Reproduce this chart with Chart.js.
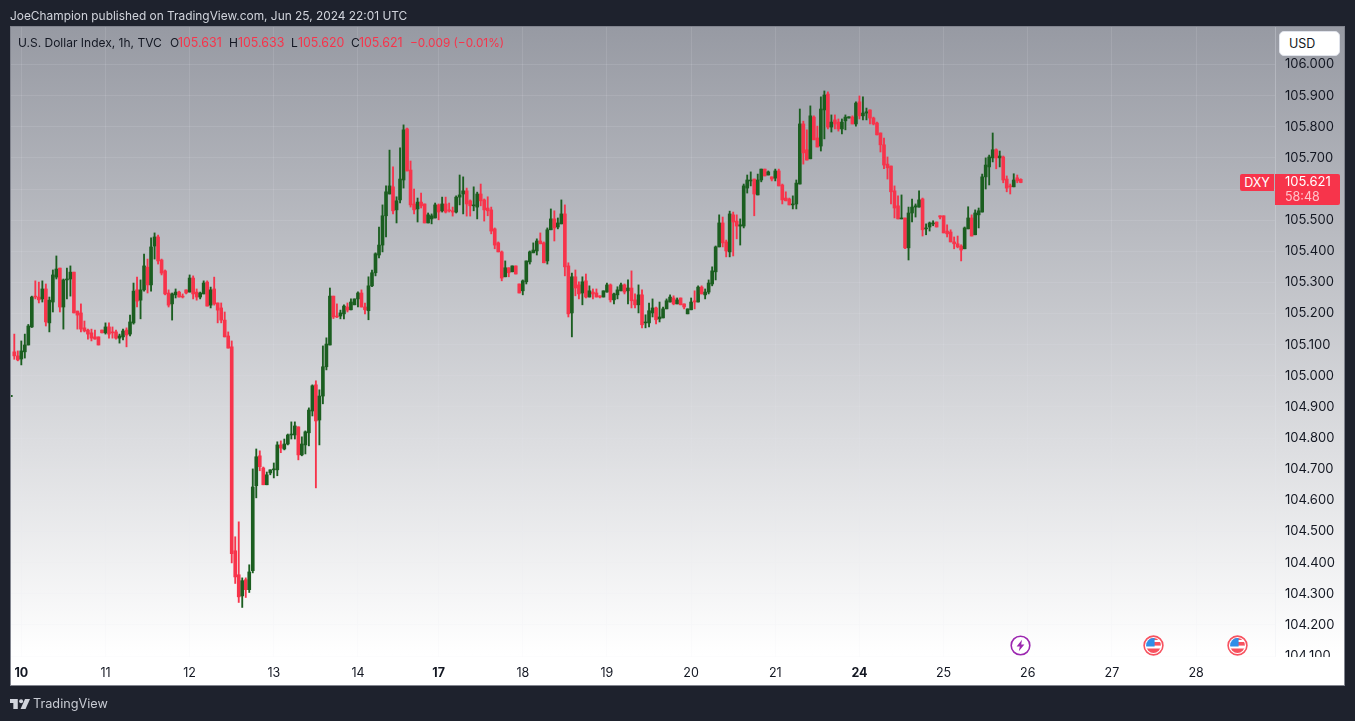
<!DOCTYPE html>
<html><head><meta charset="utf-8">
<script src="https://cdn.jsdelivr.net/npm/chart.js@4/dist/chart.umd.min.js"></script>
<style>
html,body{margin:0;padding:0;width:1355px;height:721px;overflow:hidden;background:#1e222d;font-family:Inter,Roboto,sans-serif;}
#frame{position:absolute;left:10px;top:26px;width:1333px;height:658px;border:1px solid #82858f;background:linear-gradient(180deg,#979aa3 0,#ffffff 628px);}
canvas{position:absolute;left:0;top:0;}
.t{position:absolute;white-space:nowrap;line-height:16px;font-size:12px;}
.k{color:#131722}.r{color:#f7344b}
#usd{position:absolute;left:1279px;top:31px;width:61px;height:25px;background:#fff;border:1px solid #e0e3eb;border-radius:5px;box-sizing:border-box;color:#131722;font-size:12.5px;line-height:24px;padding-left:9px;}
#dxy{position:absolute;left:1240px;width:34px;height:17px;background:#f7344b;color:#fff;font-size:12.5px;line-height:17px;text-align:center;border-radius:2px 0 0 2px;}
#price{position:absolute;left:1275px;width:65px;height:31px;background:#f7344b;color:#fff;font-size:13px;line-height:15px;border-radius:0 2px 2px 0;padding:0;}
#price div{padding-left:10px}
#price .cd{color:#ffc4cb;font-size:12.5px}
svg.m{position:absolute}
</style></head><body>
<div id="frame"></div>
<canvas id="c" width="1355" height="721"></canvas>
<div class="t" style="left:10px;top:8px;color:#d1d4dc;font-size:11.9px" id="pub">JoeChampion published on TradingView.com, Jun 25, 2024 22:01 UTC</div>
<div class="t k" style="left:18px;top:35px;font-size:12px">U.S. Dollar Index, 1h, TVC</div>
<div class="t k" style="left:170px;top:35px">O</div><div class="t r" style="left:178px;top:35px;font-size:12.4px">105.631</div>
<div class="t k" style="left:229px;top:35px">H</div><div class="t r" style="left:238px;top:35px;font-size:12.4px">105.633</div>
<div class="t k" style="left:291px;top:35px">L</div><div class="t r" style="left:298px;top:35px;font-size:12.4px">105.620</div>
<div class="t k" style="left:351px;top:35px">C</div><div class="t r" style="left:359px;top:35px;font-size:12.4px">105.621</div>
<div class="t r" style="left:410px;top:35px;font-size:11.8px">−0.009 (−0.01%)</div>
<div id="usd">USD</div>
<div id="dxy">DXY</div>
<div id="price"><div id="pv"></div><div class="cd">58:48</div></div>
<svg class="m" style="left:1010px;top:635px" width="21" height="21" viewBox="0 0 21 21"><circle cx="10.5" cy="10.5" r="9.3" fill="#fff" stroke="#9c27b0" stroke-width="1.6"/><path d="M12 4.8 6.6 11.4h3.2L8.8 16.2l5.6-6.8h-3.2z" fill="#9c27b0"/></svg>
<svg class="m" style="left:1142.5px;top:634.5px" width="21" height="21" viewBox="0 0 21 21"><defs><clipPath id="cf1"><circle cx="10.5" cy="10.5" r="7.4"/></clipPath></defs><circle cx="10.5" cy="10.5" r="9.4" fill="#fff" stroke="#f7525f" stroke-width="1.6"/><g clip-path="url(#cf1)"><rect x="2" y="3" width="17" height="15" fill="#fff"/><rect x="2" y="3" width="17" height="2" fill="#f7525f"/><rect x="11" y="7" width="8" height="3.6" fill="#f7525f"/><rect x="2" y="13.5" width="17" height="5" fill="#f7525f"/><rect x="2" y="3" width="9.6" height="8.5" fill="#2f8fe8"/></g></svg>
<svg class="m" style="left:1226.5px;top:634.5px" width="21" height="21" viewBox="0 0 21 21"><defs><clipPath id="cf2"><circle cx="10.5" cy="10.5" r="7.4"/></clipPath></defs><circle cx="10.5" cy="10.5" r="9.4" fill="#fff" stroke="#f7525f" stroke-width="1.6"/><g clip-path="url(#cf2)"><rect x="2" y="3" width="17" height="15" fill="#fff"/><rect x="2" y="3" width="17" height="2" fill="#f7525f"/><rect x="11" y="7" width="8" height="3.6" fill="#f7525f"/><rect x="2" y="13.5" width="17" height="5" fill="#f7525f"/><rect x="2" y="3" width="9.6" height="8.5" fill="#2f8fe8"/></g></svg>
<svg class="m" style="left:10px;top:697px" width="20" height="14" viewBox="0 0 36 24"><path d="M14 3H0v7h6v11h8z" fill="#d1d4dc"/><circle cx="20" cy="7" r="3.6" fill="#d1d4dc"/><path d="M27 3h9l-8 18h-9z" fill="#d1d4dc"/></svg>
<div class="t" style="left:33px;top:696px;color:#c8cbd3;font-size:12.7px">TradingView</div>
<script>
const leadOpen=104.933, leadHigh=104.937, leadLow=104.933, leadClose=104.937;
const opens=[
105.077,105.064,105.054,105.077,105.099,105.157,105.256,105.253,105.247,105.279,
105.170,105.237,105.317,105.346,105.221,105.308,105.311,105.333,105.208,105.202,
105.154,105.147,105.138,105.125,105.125,105.147,105.138,105.157,105.141,105.141,
105.121,105.125,105.147,105.134,105.170,105.276,105.243,105.276,105.349,105.292,
105.417,105.446,105.372,105.337,105.266,105.231,105.260,105.269,105.256,105.276,
105.269,105.314,105.269,105.253,105.263,105.301,105.227,105.279,105.234,105.218,
105.179,105.128,105.093,104.438,104.361,104.293,104.345,104.313,104.374,104.647,
104.743,104.704,104.650,104.688,104.698,104.698,104.778,104.765,104.781,104.810,
104.810,104.836,104.746,104.778,104.817,104.887,104.971,104.858,104.935,105.029,
105.099,105.256,105.192,105.192,105.199,105.221,105.212,105.228,105.247,105.266,
105.221,105.209,105.289,105.331,105.388,105.420,105.514,105.584,105.607,105.533,
105.565,105.629,105.793,105.661,105.552,105.536,105.558,105.552,105.491,105.504,
105.507,105.549,105.530,105.552,105.533,105.530,105.526,105.574,105.584,105.594,
105.562,105.546,105.542,105.584,105.565,105.539,105.533,105.472,105.427,105.398,
105.318,105.347,105.334,105.353,105.295,105.273,105.302,105.366,105.395,105.401,
105.433,105.427,105.369,105.469,105.504,105.478,105.488,105.520,105.353,105.202,
105.318,105.292,105.266,105.305,105.253,105.269,105.266,105.257,105.253,105.269,
105.292,105.244,105.260,105.273,105.292,105.273,105.282,105.244,105.228,105.260,
105.170,105.170,105.202,105.218,105.183,105.186,105.215,105.237,105.250,105.231,
105.250,105.231,105.199,105.212,105.241,105.237,105.285,105.260,105.269,105.295,
105.334,105.414,105.491,105.430,105.398,105.517,105.497,105.481,105.481,105.603,
105.626,105.632,105.581,105.629,105.664,105.645,105.639,105.635,105.658,105.613,
105.571,105.568,105.549,105.552,105.616,105.809,105.726,105.697,105.831,105.764,
105.738,105.854,105.905,105.799,105.822,105.815,105.793,105.819,105.828,105.831,
105.809,105.880,105.835,105.844,105.854,105.828,105.812,105.780,105.742,105.680,
105.674,105.594,105.546,105.504,105.507,105.411,105.523,105.542,105.542,105.568,
105.472,105.478,105.488,105.494,105.514,105.514,105.465,105.462,105.430,105.424,
105.417,105.408,105.472,105.507,105.453,105.517,105.526,105.639,105.671,105.700,
105.726,105.700,105.703,105.632,105.610,105.607,105.636,105.631];
const highs=[
105.134,105.080,105.112,105.134,105.165,105.256,105.305,105.301,105.305,105.295,
105.253,105.340,105.385,105.346,105.311,105.346,105.353,105.333,105.208,105.231,
105.176,105.150,105.150,105.147,105.125,105.147,105.170,105.170,105.157,105.147,
105.134,105.150,105.154,105.195,105.298,105.317,105.308,105.391,105.375,105.443,
105.459,105.452,105.375,105.340,105.276,105.266,105.279,105.272,105.263,105.276,
105.324,105.321,105.279,105.269,105.305,105.305,105.285,105.317,105.234,105.234,
105.205,105.141,105.112,104.483,104.531,104.351,104.351,104.393,104.701,104.765,
104.759,104.707,104.691,104.698,104.720,104.788,104.791,104.797,104.813,104.852,
104.852,104.836,104.804,104.823,104.897,104.971,104.984,104.955,105.096,105.122,
105.282,105.256,105.231,105.211,105.228,105.234,105.247,105.247,105.270,105.276,
105.234,105.318,105.340,105.395,105.478,105.549,105.610,105.725,105.671,105.575,
105.732,105.806,105.796,105.690,105.600,105.571,105.587,105.552,105.523,105.520,
105.555,105.552,105.574,105.574,105.555,105.542,105.578,105.645,105.639,105.603,
105.565,105.607,105.590,105.616,105.568,105.575,105.542,105.475,105.430,105.401,
105.369,105.347,105.353,105.353,105.295,105.308,105.369,105.401,105.427,105.440,
105.459,105.430,105.475,105.536,105.530,105.507,105.565,105.549,105.363,105.330,
105.340,105.302,105.318,105.327,105.289,105.279,105.279,105.257,105.273,105.298,
105.295,105.266,105.286,105.298,105.295,105.308,105.337,105.263,105.292,105.276,
105.196,105.234,105.247,105.221,105.237,105.221,105.247,105.260,105.257,105.250,
105.250,105.231,105.215,105.250,105.273,105.289,105.289,105.279,105.308,105.350,
105.417,105.517,105.510,105.436,105.529,105.526,105.517,105.504,105.616,105.645,
105.655,105.632,105.648,105.664,105.664,105.658,105.639,105.664,105.664,105.616,
105.591,105.571,105.578,105.629,105.857,105.818,105.790,105.867,105.835,105.802,
105.896,105.915,105.912,105.838,105.838,105.825,105.825,105.838,105.832,105.835,
105.880,105.899,105.896,105.860,105.854,105.831,105.815,105.780,105.764,105.703,
105.674,105.610,105.578,105.581,105.507,105.542,105.568,105.552,105.594,105.571,
105.488,105.494,105.498,105.494,105.514,105.514,105.485,105.469,105.446,105.449,
105.421,105.478,105.543,105.517,105.533,105.539,105.648,105.700,105.709,105.780,
105.729,105.722,105.706,105.642,105.616,105.649,105.645,105.633];
const lows=[
105.053,105.048,105.035,105.057,105.099,105.155,105.247,105.234,105.237,105.160,
105.141,105.205,105.311,105.205,105.150,105.247,105.256,105.202,105.150,105.141,
105.141,105.118,105.112,105.118,105.099,105.138,105.134,105.121,105.121,105.118,
105.105,105.115,105.093,105.128,105.166,105.221,105.183,105.272,105.266,105.272,
105.375,105.359,105.324,105.260,105.221,105.179,105.250,105.253,105.250,105.263,
105.269,105.247,105.243,105.247,105.263,105.224,105.218,105.227,105.170,105.170,
105.125,105.089,104.399,104.333,104.272,104.256,104.288,104.304,104.367,104.608,
104.695,104.650,104.650,104.682,104.672,104.679,104.753,104.762,104.778,104.797,
104.797,104.730,104.743,104.749,104.775,104.871,104.640,104.778,104.910,105.019,
105.099,105.184,105.187,105.183,105.183,105.205,105.212,105.228,105.221,105.221,
105.199,105.180,105.286,105.321,105.379,105.398,105.446,105.584,105.520,105.491,
105.555,105.603,105.658,105.542,105.520,105.494,105.539,105.491,105.491,105.488,
105.507,105.501,105.526,105.523,105.526,105.513,105.523,105.549,105.520,105.513,
105.513,105.530,105.504,105.546,105.497,105.514,105.456,105.408,105.398,105.305,
105.318,105.318,105.334,105.327,105.266,105.260,105.295,105.359,105.395,105.388,
105.424,105.363,105.359,105.469,105.433,105.472,105.488,105.321,105.189,105.125,
105.257,105.247,105.228,105.250,105.253,105.247,105.253,105.250,105.253,105.269,
105.237,105.231,105.247,105.273,105.263,105.231,105.218,105.218,105.202,105.154,
105.154,105.157,105.189,105.167,105.173,105.186,105.215,105.237,105.228,105.231,
105.228,105.215,105.199,105.212,105.215,105.237,105.263,105.247,105.263,105.289,
105.308,105.414,105.414,105.382,105.382,105.385,105.440,105.420,105.475,105.587,
105.610,105.514,105.581,105.623,105.642,105.645,105.626,105.626,105.610,105.552,
105.562,105.549,105.536,105.536,105.616,105.680,105.693,105.697,105.758,105.735,
105.722,105.761,105.793,105.783,105.793,105.786,105.777,105.790,105.828,105.809,
105.802,105.825,105.822,105.822,105.809,105.806,105.774,105.719,105.665,105.632,
105.552,105.507,105.504,105.504,105.408,105.372,105.494,105.510,105.542,105.449,
105.453,105.465,105.482,105.478,105.504,105.459,105.446,105.430,105.408,105.411,
105.369,105.408,105.472,105.449,105.453,105.475,105.526,105.600,105.613,105.687,
105.665,105.671,105.620,105.591,105.584,105.607,105.620,105.620];
const closes=[
105.064,105.051,105.080,105.099,105.160,105.253,105.253,105.244,105.279,105.173,
105.243,105.324,105.343,105.221,105.308,105.311,105.333,105.202,105.195,105.150,
105.144,105.134,105.121,105.118,105.099,105.138,105.157,105.134,105.138,105.121,
105.128,105.144,105.131,105.173,105.272,105.240,105.276,105.353,105.292,105.414,
105.446,105.369,105.330,105.263,105.227,105.263,105.269,105.253,105.253,105.266,
105.314,105.263,105.253,105.266,105.298,105.224,105.276,105.231,105.211,105.179,
105.125,105.089,104.429,104.354,104.290,104.342,104.313,104.370,104.643,104.740,
104.708,104.650,104.682,104.698,104.701,104.778,104.768,104.781,104.810,104.813,
104.839,104.746,104.781,104.820,104.890,104.968,104.855,104.935,105.029,105.102,
105.256,105.189,105.189,105.202,105.224,105.211,105.237,105.247,105.266,105.221,
105.212,105.289,105.331,105.392,105.420,105.514,105.591,105.610,105.530,105.562,
105.632,105.790,105.658,105.549,105.533,105.558,105.546,105.491,105.517,105.514,
105.549,105.526,105.552,105.526,105.530,105.526,105.574,105.581,105.594,105.552,
105.546,105.549,105.584,105.562,105.533,105.530,105.465,105.420,105.398,105.314,
105.347,105.331,105.353,105.327,105.266,105.305,105.369,105.398,105.404,105.433,
105.424,105.363,105.469,105.504,105.475,105.491,105.520,105.350,105.199,105.318,
105.282,105.263,105.302,105.253,105.273,105.263,105.253,105.253,105.273,105.292,
105.244,105.263,105.276,105.292,105.269,105.282,105.241,105.228,105.260,105.164,
105.173,105.209,105.218,105.180,105.189,105.215,105.241,105.253,105.231,105.244,
105.228,105.221,105.215,105.237,105.237,105.285,105.263,105.269,105.298,105.337,
105.414,105.491,105.427,105.401,105.520,105.494,105.481,105.485,105.610,105.629,
105.629,105.584,105.629,105.664,105.642,105.655,105.632,105.658,105.610,105.565,
105.562,105.549,105.552,105.619,105.809,105.716,105.693,105.835,105.758,105.735,
105.857,105.902,105.799,105.815,105.809,105.793,105.815,105.831,105.832,105.809,
105.876,105.835,105.844,105.848,105.828,105.809,105.774,105.742,105.677,105.668,
105.591,105.539,105.504,105.507,105.411,105.523,105.542,105.546,105.565,105.469,
105.475,105.491,105.491,105.478,105.510,105.459,105.456,105.430,105.424,105.414,
105.404,105.475,105.507,105.449,105.523,105.530,105.639,105.677,105.703,105.726,
105.700,105.706,105.629,105.603,105.607,105.629,105.626,105.621];
const dayTickIndex=[2,26,50,74,98,121,145,169,193,217,241,265,289,313,337];
const dayTickLabels=['10','11','12','13','14','17','18','19','20','21','24','25','26','27','28'];
const boldDays=['10','17','24'];
const priceTicks=[104.1,104.2,104.3,104.4,104.5,104.6,104.7,104.8,104.9,105.0,105.1,105.2,105.3,105.4,105.5,105.6,105.7,105.8,105.9,106.0];

const UP='#1b5e20', DOWN='#f7344b', FONT='Inter,Roboto,sans-serif';
const GRID='rgba(228,231,240,0.13)';
const allO=[leadOpen,...opens],allH=[leadHigh,...highs],allL=[leadLow,...lows],allC=[leadClose,...closes];
const col=allO.map((o,i)=>allC[i]>=o?UP:DOWN);
const wicks=allO.map((o,i)=>({x:i-1,y:[allL[i],allH[i]]}));
const bodies=allO.map((o,i)=>({x:i-1,y:[o,allC[i]]}));

const clipBand={id:'clipBand',afterDatasetsDraw(ch){const c=ch.ctx,a=ch.chartArea;c.save();c.fillStyle='#fff';c.fillRect(a.left,a.bottom,ch.scales.y.right-a.left,ch.height-36-a.bottom);c.restore();}};
const isBold=c=>{const t=c&&c.tick;return !!t&&boldDays.includes(dayTickLabels[dayTickIndex.indexOf(t.value)]);};

const chart=new Chart(document.getElementById('c'),{
 type:'bar',
 data:{datasets:[
  {label:'Wick',data:wicks,backgroundColor:col,barThickness:1.2,order:2,grouped:false},
  {label:'Body',data:bodies,backgroundColor:col,barThickness:3,order:1,grouped:false}
 ]},
 plugins:[clipBand],
 options:{
  responsive:false,animation:false,devicePixelRatio:1,
  layout:{padding:{left:11,top:27,right:11,bottom:36}},
  plugins:{legend:{display:false},tooltip:{enabled:false},title:{display:false}},
  scales:{
   x:{type:'linear',offset:false,min:-0.94,max:359.5,
      afterBuildTicks(s){s.ticks=dayTickIndex.map(v=>({value:v}));},
      afterFit(s){s.height=28;},
      grid:{offset:false,color:GRID,drawTicks:false},border:{display:false},
      ticks:{z:1,autoSkip:false,maxRotation:0,padding:9,color:'#131722',
        font:c=>({family:FONT,size:12.5,weight:isBold(c)?'700':'400'}),
        callback:v=>dayTickLabels[dayTickIndex.indexOf(v)]}},
   y:{type:'linear',position:'right',min:104.0968,max:106.1204,
      afterBuildTicks(s){s.ticks=priceTicks.map(v=>({value:v}));},
      afterFit(s){s.width=69;},
      grid:{color:GRID,drawTicks:false},border:{display:true,color:'rgba(228,231,240,0.3)'},
      ticks:{autoSkip:false,padding:10,align:'center',crossAlign:'near',color:'#131722',font:{family:FONT,size:13},callback:v=>v.toFixed(3)}}
  }
 }
});
const last=closes[closes.length-1];
const py=chart.scales.y.getPixelForValue(last);
document.getElementById('pv').textContent=last.toFixed(3);
const p=document.getElementById('price'),d=document.getElementById('dxy');
p.style.top=(py-8.5)+'px';d.style.top=(py-8.5)+'px';
</script>
</body></html>
